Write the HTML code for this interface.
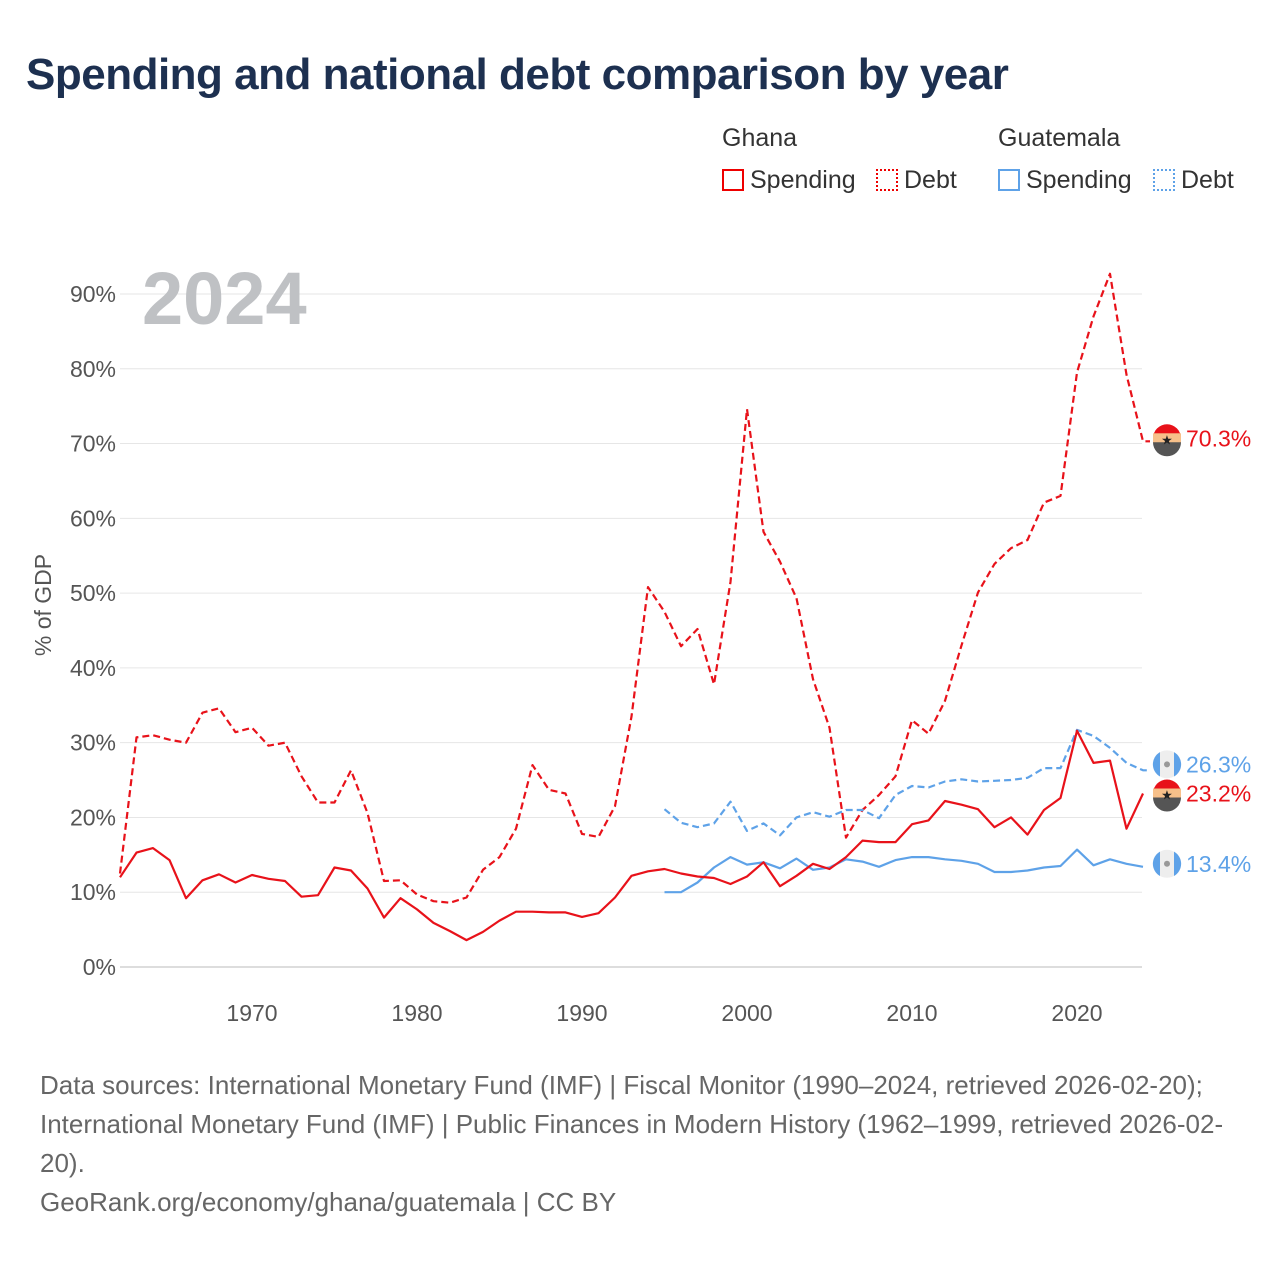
<!DOCTYPE html>
<html><head><meta charset="utf-8">
<style>
body{margin:0;background:#fff;font-family:"Liberation Sans",sans-serif;}
#wrap{position:relative;width:1280px;height:1280px;overflow:hidden;}
.t{position:absolute;white-space:nowrap;}
</style></head>
<body>
<div id="wrap">
<div class="t" style="left:26px;top:50px;font-size:44px;font-weight:bold;color:#1d3050;letter-spacing:-0.5px">Spending and national debt comparison by year</div>
<div class="t" style="left:722px;top:124px;font-size:25px;color:#333">Ghana</div>
<div class="t" style="left:998px;top:124px;font-size:25px;color:#333">Guatemala</div>
<div class="t" style="left:722px;top:166px;font-size:25px;color:#333"><span style="display:inline-block;width:22px;height:22px;border:2px solid #e00;box-sizing:border-box;vertical-align:-3px;margin-right:6px"></span>Spending</div>
<div class="t" style="left:876px;top:166px;font-size:25px;color:#333"><span style="display:inline-block;width:22px;height:22px;border:2px dotted #e00;box-sizing:border-box;vertical-align:-3px;margin-right:6px"></span>Debt</div>
<div class="t" style="left:998px;top:166px;font-size:25px;color:#333"><span style="display:inline-block;width:22px;height:22px;border:2px solid #5ea2e8;box-sizing:border-box;vertical-align:-3px;margin-right:6px"></span>Spending</div>
<div class="t" style="left:1153px;top:166px;font-size:25px;color:#333"><span style="display:inline-block;width:22px;height:22px;border:2px dotted #5ea2e8;box-sizing:border-box;vertical-align:-3px;margin-right:6px"></span>Debt</div>
<svg id="chart" width="1280" height="1280" style="position:absolute;left:0;top:0"></svg>
<div class="t" style="left:40px;top:1066px;font-size:26px;color:#666;line-height:39px;white-space:normal;width:1200px">Data sources: International Monetary Fund (IMF) | Fiscal Monitor (1990–2024, retrieved 2026-02-20); International Monetary Fund (IMF) | Public Finances in Modern History (1962–1999, retrieved 2026-02-20).<br>GeoRank.org/economy/ghana/guatemala | CC BY</div>
</div>
<script>
const yTicks=[0,10,20,30,40,50,60,70,80,90];
const xTicks=[1970,1980,1990,2000,2010,2020];
const ghYears=[];for(let y=1962;y<=2024;y++)ghYears.push(y);
const gtYears=[];for(let y=1995;y<=2024;y++)gtYears.push(y);
const ghanaSpending=[12,15.3,15.9,14.3,9.2,11.6,12.4,11.3,12.3,11.8,11.5,9.4,9.6,13.3,12.9,10.5,6.6,9.2,7.7,5.9,4.8,3.6,4.7,6.2,7.4,7.4,7.3,7.3,6.7,7.2,9.3,12.2,12.8,13.1,12.5,12.1,11.9,11.1,12.1,14.0,10.8,12.2,13.8,13.1,14.7,16.9,16.7,16.7,19.1,19.6,22.2,21.7,21.1,18.7,20.0,17.7,21.0,22.6,31.6,27.3,27.6,18.5,23.2];
const ghanaDebt=[12.5,30.7,31.0,30.4,30.0,34.0,34.6,31.4,32.0,29.6,30.0,25.5,22.0,22.0,26.3,20.6,11.5,11.6,9.7,8.8,8.6,9.3,13.0,14.7,18.5,27.0,23.7,23.2,17.8,17.4,21.5,33.5,50.8,47.5,42.9,45.2,37.8,51.5,74.6,58.2,54.2,49.3,38.5,32.0,17.3,21.0,23.0,25.5,33.0,31.2,35.6,43.0,50.1,53.9,56.0,57.1,62.1,63.0,79.5,87.0,92.7,79.2,70.3];
const guatSpending=[10.0,10.0,11.3,13.3,14.7,13.7,14.0,13.2,14.5,13.0,13.3,14.4,14.1,13.4,14.3,14.7,14.7,14.4,14.2,13.8,12.7,12.7,12.9,13.3,13.5,15.7,13.6,14.4,13.8,13.4];
const guatDebt=[21.1,19.3,18.7,19.2,22.1,18.2,19.2,17.6,20.0,20.7,20.1,21.0,21.0,19.9,23.0,24.2,24.0,24.8,25.1,24.8,24.9,25.0,25.3,26.6,26.6,31.7,30.9,29.3,27.3,26.3];

const NS='http://www.w3.org/2000/svg';
const svg=document.getElementById('chart');
const X=y=>120+(y-1962)*16.5;
const Y=v=>967-v*7.478;
function mk(tag,attrs,parent){const e=document.createElementNS(NS,tag);for(const k in attrs)e.setAttribute(k,attrs[k]);(parent||svg).appendChild(e);return e;}
yTicks.forEach(v=>{
  const g=mk('line',{x1:120,x2:1142,y1:Y(v),y2:Y(v),stroke:v===0?'#bbb':'#e6e6e6','stroke-width':1});
  
  
  const t=mk('text',{x:116,y:Y(v)+8,'text-anchor':'end','font-size':23,fill:'#555','font-family':'Liberation Sans, sans-serif'});
  t.textContent=v+'%';
  
  
});
xTicks.forEach(v=>{
  const t=mk('text',{x:X(v),y:1021,'text-anchor':'middle','font-size':23,fill:'#555','font-family':'Liberation Sans, sans-serif'});
  t.textContent=v;
  
  
});
const yt=mk('text',{x:0,y:0,transform:'translate(51,605) rotate(-90)','text-anchor':'middle','font-size':23,fill:'#555','font-family':'Liberation Sans, sans-serif'});
yt.textContent='% of GDP';


const yr=mk('text',{x:142,y:324,'font-size':74,'font-weight':'bold',fill:'#bfc1c4','font-family':'Liberation Sans, sans-serif'});
yr.textContent='2024';


function series(years,vals,color,dash,name,tail){
  let d=vals.map((v,i)=>(i?'L':'M')+X(years[i]).toFixed(1)+','+Y(v).toFixed(1)).join('');
  if(tail)d+='L1150,'+Y(vals[vals.length-1]).toFixed(1);
  const p=mk('path',{d:d,fill:'none',stroke:color,'stroke-width':2.2,'stroke-dasharray':dash,'stroke-linejoin':'round'});
  
  
}
series(ghYears,ghanaDebt,'#e8121a','7,4','ghana-debt-line',true);
series(gtYears,guatDebt,'#5ea2e8','7,4','guatemala-debt-line',true);
series(gtYears,guatSpending,'#5ea2e8','','guatemala-spending-line',false);
series(ghYears,ghanaSpending,'#e8121a','','ghana-spending-line',false);
function endLabel(v,color,flag,name,dy){
  const cy=Y(v)+dy;
  const g=mk('g',{});
  
  
  if(flag==='gh'){
    mk('path',{d:`M1153,${cy} a14,14 0 0 1 28,0 z`,fill:'#e8121a'},g);
    mk('rect',{x:1153,y:cy-5,width:28,height:10,fill:'#f7c08a'},g);
    mk('path',{d:`M1153,${cy+4} a14,14 0 0 0 28,0 z`,fill:'#555'},g);
    const s=mk('text',{x:1167,y:cy+6,'text-anchor':'middle','font-size':13,fill:'#222'},g);s.textContent='★';
  }else{
    mk('circle',{cx:1167,cy:cy,r:14,fill:'#eee'},g);
    mk('path',{d:`M1160,${cy-12.2} a14,14 0 0 0 0,24.4 z`,fill:'#5ea2e8'},g);
    mk('path',{d:`M1174,${cy-12.2} a14,14 0 0 1 0,24.4 z`,fill:'#5ea2e8'},g);
    mk('circle',{cx:1167,cy:cy,r:3,fill:'#999'},g);
  }
  const t=mk('text',{x:1186,y:cy+8,'font-size':23,fill:color,'font-family':'Liberation Sans, sans-serif'},g);
  t.textContent=v.toFixed(1)+'%';
}
endLabel(ghanaDebt[ghanaDebt.length-1],'#e8121a','gh','ghana-debt-end-label',-3);
endLabel(guatDebt[guatDebt.length-1],'#5ea2e8','gt','guatemala-debt-end-label',-6);
endLabel(ghanaSpending[ghanaSpending.length-1],'#e8121a','gh','ghana-spending-end-label',0);
endLabel(guatSpending[guatSpending.length-1],'#5ea2e8','gt','guatemala-spending-end-label',-3);
</script>
</body></html>
